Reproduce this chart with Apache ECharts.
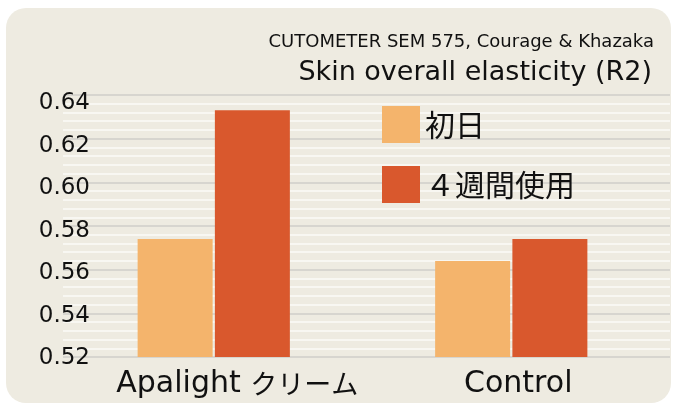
<!DOCTYPE html>
<html>
<head>
<meta charset="utf-8">
<script src="https://cdn.jsdelivr.net/npm/echarts@6/dist/echarts.min.js"></script>
<style>html,body{margin:0;padding:0;background:#fff;}#c{width:677px;height:406px;}</style>
</head>
<body>
<div id="c"></div>
<script>
var categories = ['Apalight クリーム', 'Control'];
var seriesNames = ['初日', '４週間使用'];
var day1 = [0.574, 0.564];
var week4 = [0.633, 0.574];
var yMin = 0.52, yMax = 0.64, yStep = 0.02;
var subTitle = 'CUTOMETER SEM 575, Courage & Khazaka';
var mainTitle = 'Skin overall elasticity (R2)';

var chart = echarts.init(document.getElementById('c'), null, {renderer: 'canvas'});
var latin = 'DejaVu Sans, Noto Sans CJK JP, sans-serif';
var cjk = 'Noto Sans CJK JP, DejaVu Sans, sans-serif';
chart.setOption({
  backgroundColor: '#ffffff',
  animation: false,
  graphic: [{
    type: 'rect', z: -10, silent: true,
    shape: {x: 6, y: 8, width: 665, height: 395, r: 20},
    style: {fill: '#EEEBE1'}
  }],
  title: [
    {text: subTitle, right: 23, top: 33, padding: 0,
     textStyle: {fontFamily: latin, fontSize: 18, fontWeight: 'normal', color: '#111'}},
    {text: mainTitle, right: 25, top: 59, padding: 0,
     textStyle: {fontFamily: latin, fontSize: 27, fontWeight: 'normal', color: '#111'}}
  ],
  legend: {
    orient: 'vertical', left: 382, top: 106, padding: 0,
    itemWidth: 38, itemHeight: 37, itemGap: 23, icon: 'rect',
    data: seriesNames,
    textStyle: {fontFamily: cjk, fontSize: 30, color: '#111'}
  },
  grid: [
    {left: 63, right: 7, top: 95, bottom: 49},
    {left: 65, right: 17, top: 95, bottom: 49},
    {left: 65, right: 17, top: 103, bottom: 47.5}
  ],
  xAxis: [
    {type: 'category', gridIndex: 0, data: categories,
     axisLine: {show: false}, axisTick: {show: false},
     axisLabel: {
       interval: 0, hideOverlap: false,
       margin: 12, fontFamily: latin, fontSize: 30, color: '#111',
       formatter: function (v) {
         var s = v.replace(/([\u30A0-\u30FF]+)/, '{k|$1}');
         return s.indexOf('{k|') >= 0 ? '{p|}' + s : s;
       },
       rich: {
         k: {fontFamily: cjk, fontSize: 27, color: '#111'},
         p: {width: 45, fontSize: 30}
       }
     }},
    {type: 'category', gridIndex: 1, data: categories, show: false},
    {type: 'category', gridIndex: 2, data: categories, show: false}
  ],
  yAxis: [
    {type: 'value', gridIndex: 0, min: yMin, max: yMax, interval: yStep,
     axisLine: {show: false}, axisTick: {show: false}, axisLabel: {show: false},
     splitLine: {show: true, lineStyle: {color: '#D7D5CF', width: 2}},
     minorTick: {show: false, splitNumber: 5},
     minorSplitLine: {show: true, lineStyle: {color: '#F8F7F2', width: 2}}},
    {type: 'value', gridIndex: 1, min: yMin, max: yMax, interval: yStep, show: false,
     splitLine: {show: false}},
    {type: 'value', gridIndex: 2, min: yMin, max: yMax, interval: yStep,
     axisLine: {show: false}, axisTick: {show: false}, splitLine: {show: false},
     axisLabel: {margin: -25, fontFamily: latin, fontSize: 23, color: '#111',
       formatter: function (v) { return v.toFixed(2); }}}
  ],
  series: [
    {name: seriesNames[0], type: 'bar', xAxisIndex: 1, yAxisIndex: 1, data: day1,
     barWidth: 75, barGap: '3%', itemStyle: {color: '#F4B46C'}},
    {name: seriesNames[1], type: 'bar', xAxisIndex: 1, yAxisIndex: 1, data: week4,
     barWidth: 75, barGap: '3%', itemStyle: {color: '#D9582D'}}
  ]
});
</script>
</body>
</html>
